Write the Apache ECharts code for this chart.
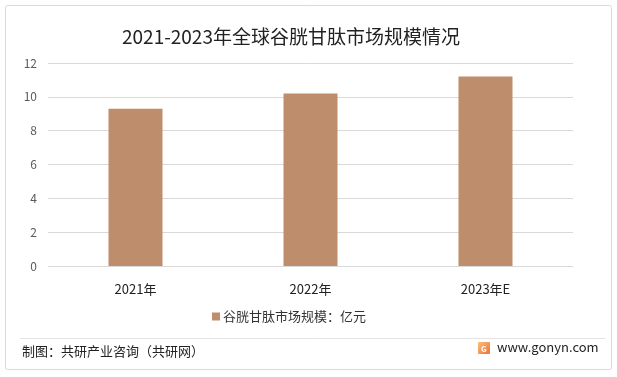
<!DOCTYPE html>
<html>
<head>
<meta charset="utf-8">
<script src="https://cdn.jsdelivr.net/npm/echarts@6/dist/echarts.min.js"></script>
<style>
  html, body { margin: 0; padding: 0; background: #fff; }
  #chart { width: 617px; height: 377px; }
</style>
</head>
<body>
<div id="chart"></div>
<script>
// 数据
const categories = ['2021年', '2022年', '2023年E']
const marketSize = [9.3, 10.2, 11.2]
const seriesName = '谷胱甘肽市场规模：亿元'
const titleText = '2021-2023年全球谷胱甘肽市场规模情况'
const sourceText = '制图：共研产业咨询（共研网）'
const siteText = 'www.gonyn.com'

const font = '"Noto Sans CJK SC", "Noto Sans", sans-serif'
const barColor = '#be8e6c'

const chart = echarts.init(document.getElementById('chart'))

chart.setOption({
  animation: false,
  backgroundColor: '#fff',
  textStyle: { fontFamily: font },
  title: {
    text: titleText,
    left: 117,
    top: 22,
    textStyle: { fontFamily: font, fontSize: 19, fontWeight: 'normal', color: '#222' },
  },
  grid: { left: 48, right: 44, top: 63, bottom: 111 },
  legend: {
    left: 207,
    top: 305,
    itemWidth: 8,
    itemHeight: 8,
    itemGap: 4,
    icon: 'rect',
    textStyle: { fontFamily: font, fontSize: 13, color: '#333', padding: [0, 0, 0, -2] },
    data: [seriesName],
  },
  xAxis: {
    type: 'category',
    data: categories,
    axisLine: { show: false },
    axisTick: { show: false },
    axisLabel: { fontFamily: font, fontSize: 13, color: '#222', margin: 17 },
  },
  yAxis: {
    type: 'value',
    min: 0,
    max: 12,
    interval: 2,
    axisLine: { show: false },
    axisTick: { show: false },
    axisLabel: { fontFamily: font, fontSize: 12, color: '#595959', margin: 11 },
    splitLine: { lineStyle: { color: '#d9d9d9', width: 1 } },
  },
  series: [
    {
      name: seriesName,
      type: 'bar',
      data: marketSize,
      barWidth: 54,
      itemStyle: { color: barColor },
    },
  ],
  graphic: [
    {
      type: 'rect',
      shape: { x: 5.5, y: 5.5, width: 606, height: 364, r: 2 },
      style: { fill: 'none', stroke: '#d9d9d9', lineWidth: 1 },
      silent: true,
    },
    {
      type: 'line',
      shape: { x1: 20, y1: 338.5, x2: 605, y2: 338.5 },
      style: { stroke: '#e3e3e3', lineWidth: 1 },
    },
    {
      type: 'text',
      left: 22,
      top: 345,
      style: { text: sourceText, font: '13px ' + font, fill: '#222' },
    },
    {
      type: 'rect',
      shape: { x: 478, y: 342, width: 12, height: 12, r: 1 },
      style: {
        fill: new echarts.graphic.LinearGradient(0, 0, 1, 1, [
          { offset: 0, color: '#f9c07a' },
          { offset: 1, color: '#f0703a' },
        ]),
      },
    },
    {
      type: 'text',
      x: 481,
      y: 345,
      style: { text: 'G', font: 'bold 8px ' + font, fill: '#fff' },
    },
    {
      type: 'text',
      left: 497,
      top: 341,
      style: { text: siteText, font: '13px ' + font, fill: '#222' },
    },
  ],
})
</script>
</body>
</html>
